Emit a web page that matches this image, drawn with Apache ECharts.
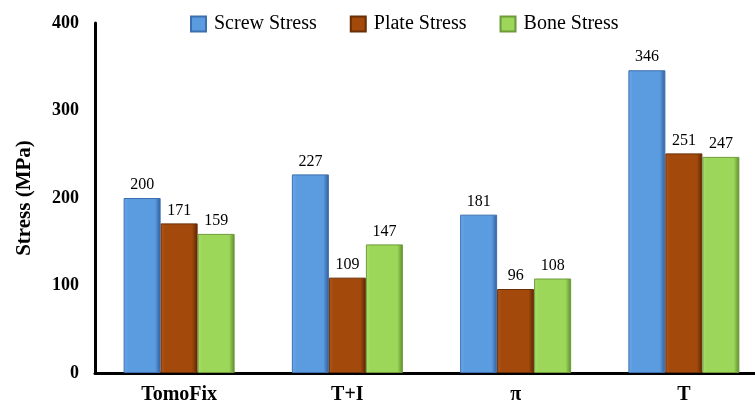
<!DOCTYPE html>
<html><head><meta charset="utf-8">
<script src="https://cdn.jsdelivr.net/npm/echarts@6/dist/echarts.min.js"></script>
<style>html,body{margin:0;padding:0;background:#fff}#c{width:755px;height:405px}</style>
</head><body><div id="c"></div>
<script>
const categories = ['TomoFix', 'T+I', 'π', 'T'];
const screwStress = [200, 227, 181, 346];
const plateStress = [171, 109, 96, 251];
const boneStress = [159, 147, 108, 247];
const yTicks = [0, 100, 200, 300, 400];

const font = 'Liberation Serif, Times New Roman, serif';
function grad(light, mid, dark) {
  return new echarts.graphic.LinearGradient(0, 0, 1, 0, [
    {offset: 0, color: light}, {offset: 0.12, color: mid},
    {offset: 0.85, color: mid}, {offset: 1, color: dark}
  ]);
}
const colors = [
  {main: '#5B9BE0', item: grad('#6AA8EA', '#5B9BE0', '#2E5E9A'), border: '#3D6FAE'},
  {main: '#A3490C', item: grad('#B4561A', '#A3490C', '#5A2504'), border: '#6A2E06'},
  {main: '#9CD75A', item: grad('#A9E06A', '#9CD75A', '#5E8A2C'), border: '#6E9A3A'}
];
const names = ['Screw Stress', 'Plate Stress', 'Bone Stress'];
const data = [screwStress, plateStress, boneStress];

const chart = echarts.init(document.getElementById('c'), null, {renderer: 'canvas'});
chart.setOption({
  animation: false,
  backgroundColor: '#fff',
  textStyle: {fontFamily: font},
  legend: {
    top: 9, left: 185,
    itemWidth: 15, itemHeight: 15, itemGap: 33,
    icon: 'rect',
    textStyle: {fontFamily: font, fontSize: 20, color: '#000', padding: [0, 0, 0, 3]},
    data: names
  },
  grid: {left: 95, top: 23, bottom: 32, width: 673, outerBoundsMode: 'none'},
  xAxis: {
    type: 'category', data: categories,
    axisLine: {lineStyle: {color: '#000', width: 3}},
    axisTick: {show: false},
    axisLabel: {fontFamily: font, fontSize: 20, fontWeight: 'bold', color: '#000', margin: 12}
  },
  yAxis: {
    type: 'value', min: yTicks[0], max: yTicks[yTicks.length - 1], interval: 100,
    name: 'Stress (MPa)', nameLocation: 'middle', nameGap: 60, nameRotate: 90,
    nameTextStyle: {fontFamily: font, fontSize: 21, fontWeight: 'bold', color: '#000'},
    axisLine: {show: true, lineStyle: {color: '#000', width: 3}},
    axisTick: {show: false},
    splitLine: {show: false},
    axisLabel: {fontFamily: font, fontSize: 18, fontWeight: 'bold', color: '#000', margin: 16}
  },
  series: names.map((n, i) => ({
    name: n, type: 'bar', data: data[i],
    barWidth: 37, barGap: '0%',
    color: colors[i].main,
    itemStyle: {color: colors[i].item, borderColor: colors[i].border, borderWidth: 1},
    label: {show: true, position: 'top', distance: 5, fontFamily: font, fontSize: 16, color: '#000'}
  }))
});
</script></body></html>
